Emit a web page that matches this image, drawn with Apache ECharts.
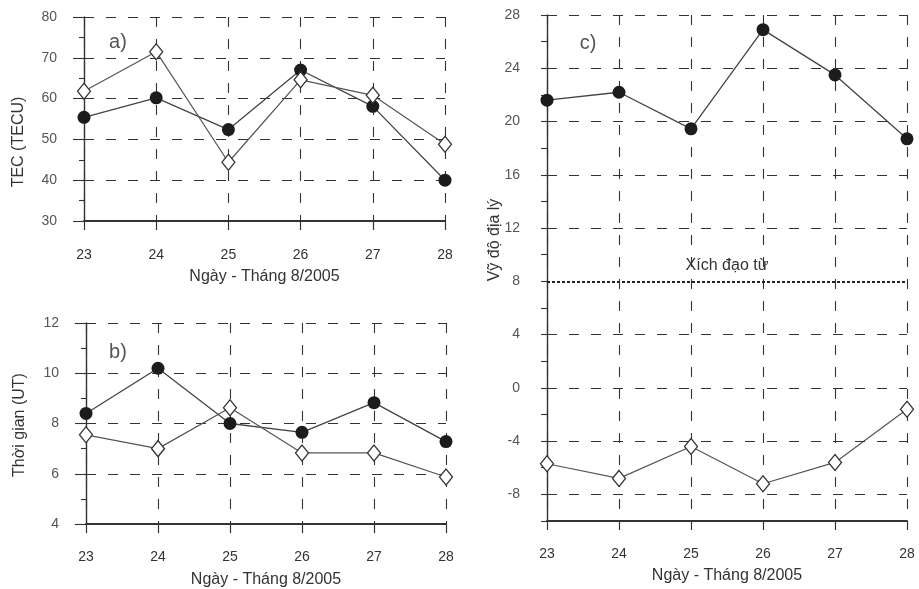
<!DOCTYPE html>
<html><head><meta charset="utf-8">
<script src="https://cdn.jsdelivr.net/npm/echarts@6/dist/echarts.min.js"></script>
<style>html,body{margin:0;padding:0;background:#fff}#c{width:919px;height:589px}</style>
</head><body><div id="c"></div>
<script>
// ---- data ----
const days = ['23', '24', '25', '26', '27', '28'];
const tecCircle = [55.4, 60.2, 52.4, 67.0, 58.1, 40.0];
const tecDiamond = [61.8, 71.5, 44.4, 64.6, 60.8, 48.8];
const timeCircle = [8.4, 10.2, 8.0, 7.65, 8.83, 7.28];
const timeDiamond = [7.55, 7.0, 8.63, 6.83, 6.83, 5.87];
const latCircle = [21.6, 22.2, 19.45, 26.9, 23.5, 18.7];
const latDiamond = [-5.7, -6.8, -4.4, -7.2, -5.6, -1.6];
const latGridValues = [28, 24, 20, 16, 12, 4, 0, -4, -8];
const latLabelValues = [28, 24, 20, 16, 12, 8, 4, 0, -4, -8];
const magneticEquator = 8;
const xName = 'Ngày - Tháng 8/2005';

const FONT = 'Liberation Sans, Arial, sans-serif';
const INK = '#333';
const dash = [10, 12];

function makeX(gi, labelMargin, nameGap) {
  return {
    gridIndex: gi, type: 'category', data: days, boundaryGap: false,
    axisLine: {show: true, onZero: false, lineStyle: {color: INK, width: 2}},
    axisTick: {show: true, length: 9, lineStyle: {color: INK, width: 1.2}},
    axisLabel: {margin: labelMargin, fontSize: 14, color: INK, fontFamily: FONT},
    splitLine: {show: true, lineStyle: {color: INK, width: 1.1, type: dash}},
    name: xName, nameLocation: 'middle', nameGap: nameGap,
    nameTextStyle: {fontSize: 16, color: INK, fontFamily: FONT, verticalAlign: 'top'}
  };
}
function makeY(gi, min, max, interval) {
  return {
    gridIndex: gi, type: 'value', min: min, max: max, interval: interval,
    axisLine: {show: true, lineStyle: {color: INK, width: 1.4}},
    axisTick: {show: true, length: 11, lineStyle: {color: INK, width: 1.1}},
    minorTick: {show: true, splitNumber: 2, length: 5, lineStyle: {color: INK, width: 1.1}},
    axisLabel: {margin: 27, fontSize: 14, color: '#555', fontFamily: FONT},
    splitLine: {show: true, lineStyle: {color: INK, width: 1.1, type: dash}}
  };
}
function circleSeries(x, y, data) {
  return {type: 'line', xAxisIndex: x, yAxisIndex: y, data: data,
    symbol: 'circle', symbolSize: 13, z: 3,
    itemStyle: {color: '#1c1c1c'}, lineStyle: {color: '#444', width: 1.3}};
}
function diamondSeries(x, y, data) {
  return {type: 'line', xAxisIndex: x, yAxisIndex: y, data: data,
    symbol: 'diamond', symbolSize: [13, 16], z: 4,
    itemStyle: {color: '#fff', borderColor: '#333', borderWidth: 1.3},
    lineStyle: {color: '#555', width: 1.2}};
}

const yC = makeY(2, -10, 28, 2);
yC.minorTick = {show: false};
yC.axisTick.length = 6;
yC.splitLine = {show: false};
yC.axisLabel.formatter = v => (latLabelValues.indexOf(v) >= 0 ? String(v) : '');

const latCircleS = circleSeries(2, 2, latCircle);
latCircleS.markLine = {
  silent: true, symbol: 'none',
  label: {show: false},
  lineStyle: {color: INK, width: 1.1, type: dash},
  data: latGridValues.map(v => ({yAxis: v}))
};
const latDiamondS = diamondSeries(2, 2, latDiamond);
latDiamondS.markLine = {
  silent: true, symbol: 'none',
  lineStyle: {color: '#222', width: 2, type: [3, 2]},
  label: {show: true, position: 'insideMiddleTop', formatter: 'Xích đạo từ',
    fontSize: 16, color: INK, fontFamily: FONT, distance: 8},
  data: [{yAxis: magneticEquator}]
};

const chart = echarts.init(document.getElementById('c'), null, {renderer: 'canvas'});
chart.setOption({
  backgroundColor: '#fff',
  animation: false,
  grid: [
    {left: 84, right: 474, top: 17, bottom: 368},
    {left: 86, right: 473, top: 323, bottom: 63},
    {left: 547, right: 12, top: 15, bottom: 65}
  ],
  xAxis: [makeX(0, 27, 48), makeX(1, 26, 48), makeX(2, 26, 47)],
  yAxis: [makeY(0, 30, 80, 10), makeY(1, 4, 12, 2), yC],
  series: [
    circleSeries(0, 0, tecCircle), diamondSeries(0, 0, tecDiamond),
    circleSeries(1, 1, timeCircle), diamondSeries(1, 1, timeDiamond),
    latCircleS, latDiamondS
  ],
  graphic: [
    {type: 'text', x: 118, y: 42, style: {text: 'a)', fontSize: 20, fill: '#555', fontFamily: FONT, textAlign: 'center', textVerticalAlign: 'middle'}},
    {type: 'text', x: 118, y: 352, style: {text: 'b)', fontSize: 20, fill: '#555', fontFamily: FONT, textAlign: 'center', textVerticalAlign: 'middle'}},
    {type: 'text', x: 588, y: 43, style: {text: 'c)', fontSize: 20, fill: '#555', fontFamily: FONT, textAlign: 'center', textVerticalAlign: 'middle'}},
    {type: 'text', x: 19, y: 142, rotation: Math.PI / 2, style: {text: 'TEC (TECU)', fontSize: 16, fill: INK, fontFamily: FONT, textAlign: 'center', textVerticalAlign: 'middle'}},
    {type: 'text', x: 20, y: 425, rotation: Math.PI / 2, style: {text: 'Thời gian (UT)', fontSize: 16, fill: INK, fontFamily: FONT, textAlign: 'center', textVerticalAlign: 'middle'}},
    {type: 'text', x: 495, y: 240, rotation: Math.PI / 2, style: {text: 'Vỹ độ địa lý', fontSize: 16, fill: INK, fontFamily: FONT, textAlign: 'center', textVerticalAlign: 'middle'}}
  ]
});
</script></body></html>
